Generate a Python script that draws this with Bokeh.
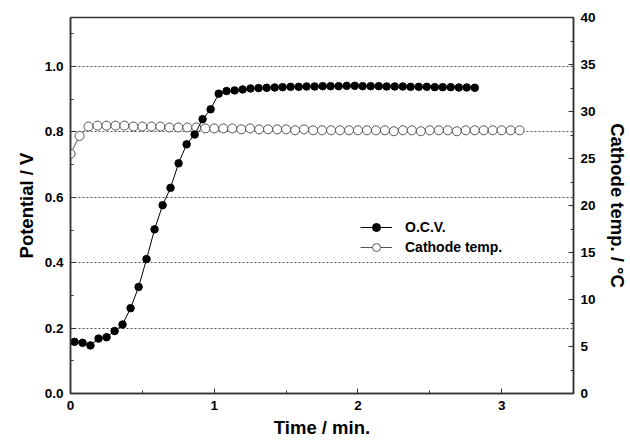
from bokeh.plotting import figure
from bokeh.models import Range1d, LinearAxis, Legend, LegendItem, FixedTicker, PrintfTickFormatter
from bokeh.embed import file_html
from bokeh.resources import INLINE

# ---- data ----
t_ocv = [0.028, 0.084, 0.139, 0.195, 0.251, 0.307, 0.362, 0.418, 0.474, 0.529,
         0.585, 0.641, 0.696, 0.752, 0.808, 0.864, 0.919, 0.975, 1.031, 1.086,
         1.142, 1.198, 1.253, 1.309, 1.365, 1.421, 1.476, 1.532, 1.588, 1.643,
         1.699, 1.755, 1.810, 1.866, 1.922, 1.978, 2.033, 2.089, 2.145, 2.200,
         2.256, 2.312, 2.367, 2.423, 2.479, 2.535, 2.590, 2.646, 2.702, 2.757,
         2.813]
v_ocv = [0.158, 0.155, 0.147, 0.168, 0.172, 0.191, 0.211, 0.261, 0.326, 0.411,
         0.502, 0.576, 0.629, 0.704, 0.762, 0.792, 0.839, 0.869, 0.917, 0.925,
         0.927, 0.930, 0.933, 0.934, 0.935, 0.936, 0.937, 0.938, 0.938, 0.939,
         0.939, 0.940, 0.940, 0.940, 0.941, 0.941, 0.940, 0.940, 0.940, 0.939,
         0.939, 0.939, 0.938, 0.938, 0.938, 0.937, 0.937, 0.937, 0.936, 0.936,
         0.935]
t_temp = [0.000, 0.063, 0.125, 0.188, 0.250, 0.313, 0.375, 0.438, 0.500, 0.563,
          0.625, 0.688, 0.750, 0.813, 0.875, 0.938, 1.000, 1.063, 1.125, 1.188,
          1.250, 1.313, 1.375, 1.438, 1.500, 1.563, 1.625, 1.688, 1.750, 1.813,
          1.875, 1.938, 2.000, 2.063, 2.125, 2.188, 2.250, 2.313, 2.375, 2.438,
          2.500, 2.563, 2.625, 2.688, 2.750, 2.813, 2.875, 2.938, 3.000, 3.063,
          3.125]
temp = [25.5, 27.4, 28.4, 28.5, 28.5, 28.5, 28.5, 28.4, 28.4, 28.4,
        28.4, 28.3, 28.3, 28.3, 28.3, 28.2, 28.2, 28.2, 28.2, 28.1,
        28.2, 28.1, 28.1, 28.1, 28.1, 28.0, 28.1, 28.0, 28.0, 28.0,
        28.0, 28.0, 28.0, 28.0, 28.0, 28.0, 27.9, 28.0, 28.0, 27.9,
        28.0, 28.0, 28.0, 27.9, 28.0, 28.0, 28.0, 28.0, 28.0, 28.0,
        28.0]

x_ticks = [0, 1, 2, 3]
v_ticks = [0.0, 0.2, 0.4, 0.6, 0.8, 1.0]
temp_ticks = [0, 5, 10, 15, 20, 25, 30, 35, 40]

FONT = "Liberation Sans"

p = figure(width=630, height=440, output_backend="svg", toolbar_location=None,
           x_range=Range1d(0, 3.5), y_range=Range1d(0, 1.15),
           min_border_left=70, min_border_right=54, min_border_top=17,
           min_border_bottom=46)
p.extra_y_ranges = {"temp": Range1d(0, 40)}

p.outline_line_color = "#333333"
p.outline_line_width = 1.5
p.xgrid.visible = False
p.ygrid.grid_line_color = "#555555"
p.ygrid.grid_line_dash = "2 2"
p.ygrid.grid_line_width = 1
p.ygrid.ticker = FixedTicker(ticks=v_ticks)

raxis = LinearAxis(y_range_name="temp")
p.add_layout(raxis, "right")

def style(ax):
    ax.axis_line_color = "#333333"
    ax.axis_line_width = 1.5
    ax.major_tick_in = 5
    ax.major_tick_out = 0
    ax.minor_tick_in = 3
    ax.minor_tick_out = 0
    ax.major_tick_line_color = "#333333"
    ax.minor_tick_line_color = "#333333"
    ax.major_label_text_font = FONT
    ax.major_label_text_font_style = "bold"
    ax.major_label_text_font_size = "13.5px"
    ax.major_label_text_color = "black"
    ax.major_label_standoff = 7
    ax.axis_label_text_font = FONT
    ax.axis_label_text_font_style = "bold"
    ax.axis_label_text_font_size = "18.5px"
    ax.axis_label_text_color = "black"

xa = p.xaxis[0]
ya = p.yaxis[0]
for ax in (xa, ya, raxis):
    style(ax)

xa.ticker = FixedTicker(ticks=x_ticks, minor_ticks=[0.5, 1.5, 2.5, 3.5])
xa.axis_label = "Time / min."
xa.axis_label_standoff = 4
ya.ticker = FixedTicker(ticks=v_ticks, minor_ticks=[0.1, 0.3, 0.5, 0.7, 0.9, 1.1])
ya.formatter = PrintfTickFormatter(format="%.1f")
ya.axis_label = "Potential / V"
ya.axis_label_standoff = 5
raxis.ticker = FixedTicker(ticks=temp_ticks,
                           minor_ticks=[2.5, 7.5, 12.5, 17.5, 22.5, 27.5, 32.5, 37.5])
raxis.axis_label = "Cathode temp. / °C"
raxis.axis_label_standoff = 8

# temperature (drawn first, below)
t_line = p.line(t_temp, temp, y_range_name="temp", line_color="#555555", line_width=1)
t_pts = p.scatter(t_temp, temp, y_range_name="temp", size=9, marker="circle",
                  fill_color="white", line_color="#555555", line_width=1)
# OCV
o_line = p.line(t_ocv, v_ocv, line_color="black", line_width=1)
o_pts = p.scatter(t_ocv, v_ocv, size=7.5, marker="circle",
                  fill_color="black", line_color="black")

legend = Legend(items=[LegendItem(label="O.C.V.", renderers=[o_line, o_pts]),
                       LegendItem(label="Cathode temp.", renderers=[t_line, t_pts])],
                location=(290, 136), orientation="vertical")
legend.background_fill_alpha = 0
legend.border_line_alpha = 0
legend.padding = 0
legend.margin = 0
legend.spacing = 0
legend.glyph_width = 32
legend.glyph_height = 20
legend.label_height = 20
legend.label_standoff = 13
legend.label_text_font = FONT
legend.label_text_font_style = "bold"
legend.label_text_font_size = "14px"
legend.label_text_color = "black"
p.add_layout(legend, "center")

open("out.html", "w").write(file_html(p, INLINE))
